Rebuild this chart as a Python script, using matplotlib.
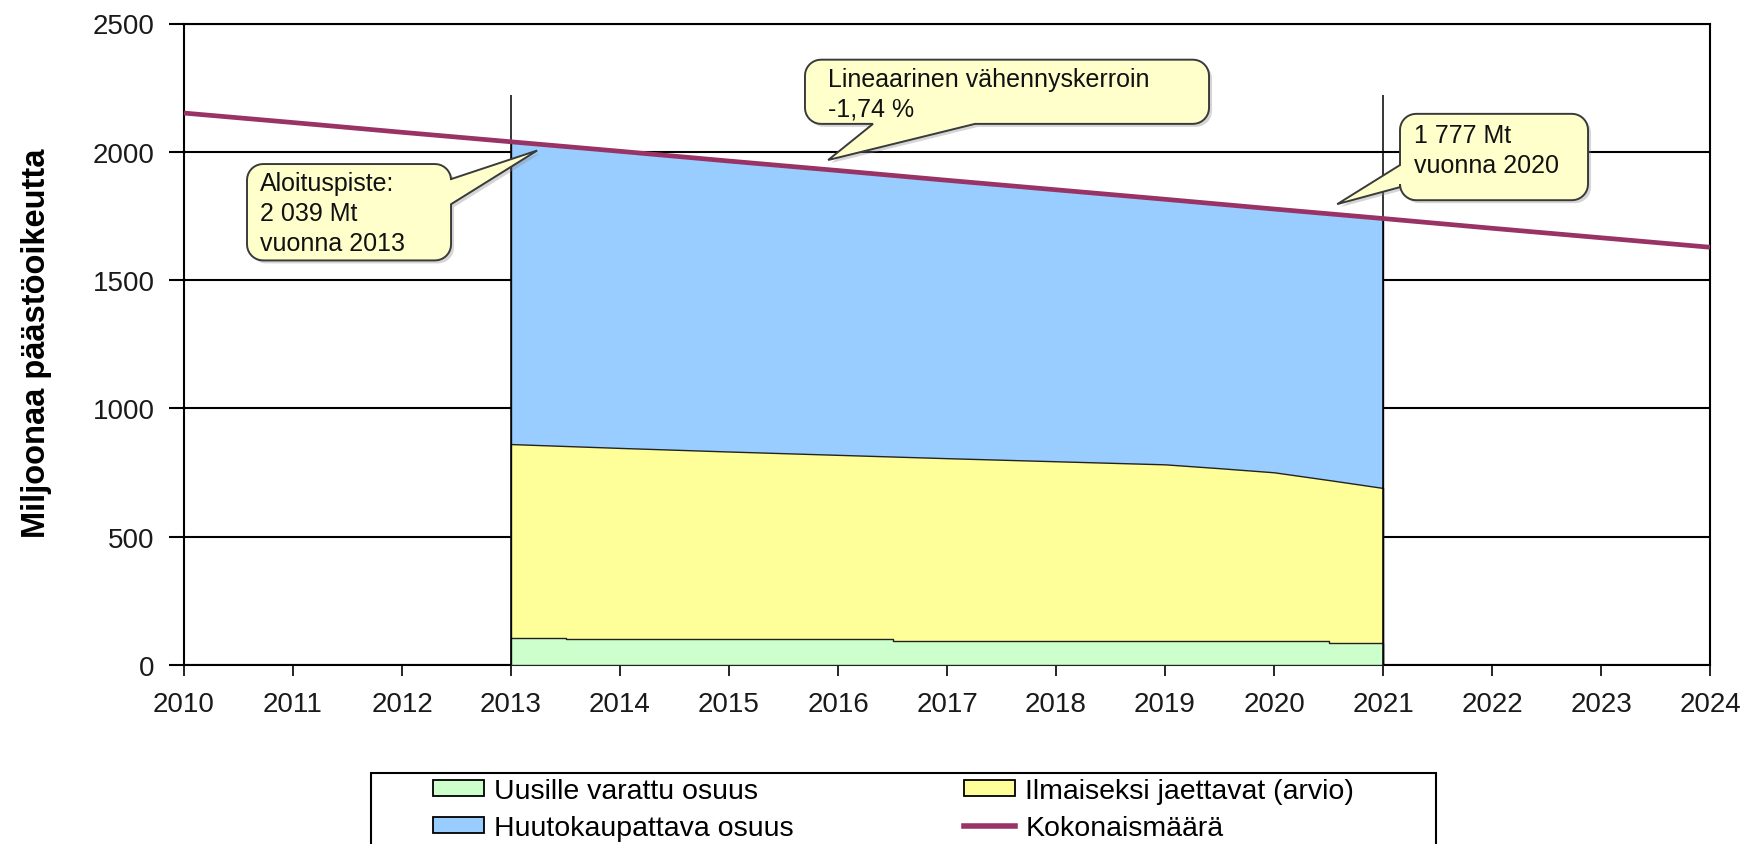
import numpy as np
import matplotlib
matplotlib.use("Agg")
import matplotlib.pyplot as plt
from matplotlib.patches import Polygon, Rectangle, Patch
from matplotlib.lines import Line2D

plt.rcParams['font.family'] = ['Liberation Sans', 'DejaVu Sans']

# ---------------- data ----------------
years = [2010, 2011, 2012, 2013, 2014, 2015, 2016, 2017, 2018, 2019, 2020, 2021, 2022, 2023, 2024]
total_cap = [2151, 2114, 2076, 2039, 2002, 1964, 1927, 1889, 1852, 1815, 1777, 1740, 1702, 1665, 1628]

period_years = [2013, 2021]
period_line_top = 2220

# cumulative top of free allocation (new entrants + free allocation)
free_alloc_years = [2013, 2014, 2015, 2016, 2017, 2018, 2019, 2019.5, 2020, 2020.5, 2021]
free_alloc_top = [861, 846, 832, 819, 806, 794, 782, 767, 751, 721, 690]

# new entrants reserve (step values)
reserve_years = [2013, 2013.5, 2016.5, 2020.5, 2021]
reserve_values = [106, 100, 94, 86, 86]

y_ticks = [0, 500, 1000, 1500, 2000, 2500]
x_ticks = years

labels = ["Uusille varattu osuus", "Huutokaupattava osuus",
          "Ilmaiseksi jaettavat (arvio)", "Kokonaismäärä"]
ylabel = "Miljoonaa päästöoikeutta"

c_green = "#CCFFCC"
c_yellow = "#FFFF99"
c_blue = "#99CCFF"
c_line = "#993366"

# ---------------- figure ----------------
W, H = 1746, 845
fig = plt.figure(figsize=(W / 100, H / 100), dpi=100)
ax = fig.add_axes([184 / W, 1 - 666 / H, (1710 - 184) / W, (666 - 24.5) / H])
ax.set_xlim(2010, 2024)
ax.set_ylim(0, 2500)
ax.autoscale(False)

ax.set_axisbelow(True)
ax.yaxis.grid(True, color="black", lw=1.5, zorder=0)
for s in ax.spines.values():
    s.set_linewidth(1.5)
    s.set_color("black")

ax.set_yticks(y_ticks)
ax.set_xticks(x_ticks)
ax.set_xticklabels([str(y) for y in x_ticks])
ax.tick_params(axis="y", direction="out", length=11, width=1.5, pad=10,
               labelsize=20, labelcolor="#1a1a1a")
ax.tick_params(axis="x", direction="out", length=8, width=1.2, pad=11,
               labelsize=20, labelcolor="#1a1a1a")

yrs = np.array(years, dtype=float)
tot = np.array(total_cap, dtype=float)
mask = (yrs >= period_years[0]) & (yrs <= period_years[1])

# stacked areas drawn as layers
ax.fill_between(yrs[mask], 0, tot[mask], facecolor=c_blue, edgecolor="#222222",
                lw=1.0, zorder=1)
ax.fill_between(free_alloc_years, 0, free_alloc_top, facecolor=c_yellow,
                edgecolor="#222222", lw=1.0, zorder=2)
ax.fill_between(reserve_years, 0, reserve_values, step="post", facecolor=c_green,
                edgecolor="#222222", lw=1.0, zorder=3)

# period marker lines
ax.vlines(period_years, 0, period_line_top, color="black", lw=1.1, zorder=4)

# total cap line
ax.plot(years, total_cap, color=c_line, lw=3.4, zorder=5, solid_capstyle="butt")

# y label
fig.text(37 / W, 1 - 343 / H, ylabel, rotation=90, ha="center", va="center",
         fontsize=23.5, fontweight="bold")


# ---------------- callouts ----------------
def bubble(box, side, base, tip, text, text_xy, fs=18, r=16):
    T = ax.transData
    (ax0, ay0) = T.transform((box[0], box[1]))
    (ax1, ay1) = T.transform((box[2], box[3]))
    x0, x1 = sorted([ax0, ax1])
    y0, y1 = sorted([ay0, ay1])
    tp = tuple(T.transform(tip))
    pts = []

    def arc(cx, cy, a0, a1):
        for t in np.radians(np.linspace(a0, a1, 9)):
            pts.append((cx + r * np.cos(t), cy + r * np.sin(t)))

    arc(x1 - r, y1 - r, 90, 0)
    if side == "right":
        b = sorted([T.transform((box[2], v))[1] for v in base], reverse=True)
        pts.extend([(x1, b[0]), tp, (x1, b[1])])
    arc(x1 - r, y0 + r, 0, -90)
    if side == "bottom":
        b = sorted([T.transform((v, box[1]))[0] for v in base], reverse=True)
        pts.extend([(b[0], y0), tp, (b[1], y0)])
    arc(x0 + r, y0 + r, -90, -180)
    if side == "left":
        b = sorted([T.transform((box[0], v))[1] for v in base])
        pts.extend([(x0, b[0]), tp, (x0, b[1])])
    arc(x0 + r, y1 - r, 180, 90)

    pts = np.array(pts)
    inv = fig.transFigure.inverted()
    shadow = Polygon(inv.transform(pts + np.array([3, -3])), closed=True,
                     transform=fig.transFigure, facecolor="#888888", alpha=0.35,
                     edgecolor="none", zorder=6, clip_on=False)
    poly = Polygon(inv.transform(pts), closed=True, transform=fig.transFigure,
                   facecolor="#FFFFCC", edgecolor="#3a3a3a", lw=1.4, zorder=6.5,
                   clip_on=False)
    ax.add_artist(shadow)
    ax.add_artist(poly)
    ax.text(text_xy[0], text_xy[1], text, fontsize=fs, ha="left", va="center",
            linespacing=1.3, zorder=7, color="#111111", clip_on=False)


bubble((2010.578, 1576.7, 2012.450, 1952.3), "right", (1893.6, 1795.8),
       (2013.24, 2005), "Aloituspiste:\n2 039 Mt\nvuonna 2013", (2010.70, 1762))
bubble((2015.697, 2108.8, 2019.404, 2359.0), "bottom", (2016.321, 2017.257),
       (2015.91, 1968), "Lineaarinen vähennyskerroin\n-1,74 %", (2015.91, 2226))
bubble((2021.156, 1811.4, 2022.881, 2147.9), "left", (1948.4, 1862.3),
       (2020.58, 1796), "1 777 Mt\nvuonna 2020", (2021.28, 2008))

# ---------------- legend ----------------
h_green = Patch(facecolor=c_green, edgecolor="black", lw=1.3)
h_blue = Patch(facecolor=c_blue, edgecolor="black", lw=1.3)
h_yellow = Patch(facecolor=c_yellow, edgecolor="black", lw=1.3)
h_line = Line2D([], [], color=c_line, lw=4)

leg_kw = dict(loc="upper left", frameon=False, fontsize=20.5, borderpad=0,
              borderaxespad=0, handlelength=1.8, handleheight=0.5,
              handletextpad=0.35, labelspacing=0.38)
fig.legend([h_green, h_blue], labels[:2], bbox_to_anchor=(433 / W, 1 - 779 / H), **leg_kw)
fig.legend([h_yellow, h_line], labels[2:], bbox_to_anchor=(964 / W, 1 - 779 / H), **leg_kw)
fig.add_artist(Rectangle((371 / W, -0.05), (1436 - 371) / W, (1 - 774 / H) + 0.05,
                         transform=fig.transFigure, fill=False, edgecolor="black",
                         lw=1.5))

fig.savefig("out.png", dpi=100)
